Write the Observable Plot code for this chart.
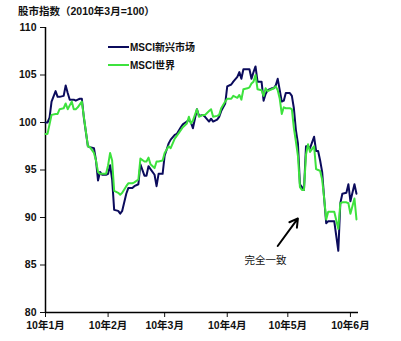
<!DOCTYPE html>
<html>
<head>
<meta charset="utf-8">
<script src="https://cdn.jsdelivr.net/npm/d3@7"></script>
<script src="https://cdn.jsdelivr.net/npm/@observablehq/plot@0.6"></script>
<style>
  html, body { margin: 0; padding: 0; background: #fff; }
  #wrap { position: relative; width: 401px; height: 341px; font-family: "Liberation Sans", Arial, "Noto Sans CJK SC", sans-serif; }
  #title { position: absolute; left: 18px; top: 3px; font-size: 10.5px; font-weight: bold; color: #111; white-space: nowrap; z-index: 2; }
  .leg { position: absolute; left: 108px; font-size: 10px; font-weight: bold; color: #111; white-space: nowrap; display: flex; align-items: center; z-index: 2; }
  .leg .sw { display: inline-block; width: 21px; height: 0; border-top-style: solid; border-top-width: 2px; margin-right: 1px; }
  #chart { position: absolute; left: 0; top: 0; z-index: 1; }
</style>
</head>
<body>
<div id="wrap">
  <div id="chart"></div>
  <div id="title"></div>
  <div id="legend"></div>
</div>
<script>
const dates = [
  "2010-01-01","2010-01-02","2010-01-03","2010-01-04","2010-01-06","2010-01-07","2010-01-08","2010-01-10","2010-01-11","2010-01-12",
  "2010-01-13","2010-01-14","2010-01-15","2010-01-16","2010-01-17","2010-01-18","2010-01-19","2010-01-20","2010-01-22","2010-01-23",
  "2010-01-25","2010-01-26","2010-01-27","2010-01-28","2010-01-29","2010-01-30","2010-01-31","2010-02-01","2010-02-02","2010-02-03",
  "2010-02-04","2010-02-06","2010-02-07","2010-02-08","2010-02-10","2010-02-11","2010-02-13","2010-02-14","2010-02-16","2010-02-17",
  "2010-02-19","2010-02-20","2010-02-21","2010-02-22","2010-02-24","2010-02-25","2010-02-26","2010-02-28","2010-03-01","2010-03-03",
  "2010-03-04","2010-03-06","2010-03-07","2010-03-09","2010-03-10","2010-03-12","2010-03-13","2010-03-14","2010-03-15","2010-03-17",
  "2010-03-18","2010-03-20","2010-03-21","2010-03-23","2010-03-24","2010-03-25","2010-03-27","2010-03-28","2010-03-29","2010-03-31",
  "2010-04-01","2010-04-03","2010-04-04","2010-04-06","2010-04-07","2010-04-08","2010-04-09","2010-04-11","2010-04-12","2010-04-13",
  "2010-04-14","2010-04-15","2010-04-16","2010-04-18","2010-04-19","2010-04-20","2010-04-21","2010-04-23","2010-04-24","2010-04-25",
  "2010-04-26","2010-04-27","2010-04-28","2010-04-29","2010-04-30","2010-05-02","2010-05-03","2010-05-04","2010-05-05","2010-05-06",
  "2010-05-07","2010-05-08","2010-05-09","2010-05-10","2010-05-11","2010-05-12","2010-05-14","2010-05-15","2010-05-16","2010-05-17",
  "2010-05-18","2010-05-19","2010-05-20","2010-05-21","2010-05-23","2010-05-24","2010-05-26","2010-05-27","2010-05-28","2010-05-30",
  "2010-05-31","2010-06-01","2010-06-03","2010-06-04"
];
const emValues = [
  100.0,100.0,100.5,102.2,103.3,102.7,102.7,102.8,103.9,103.1,
  102.4,102.4,102.4,102.3,102.4,102.5,102.5,100.5,97.5,97.4,
  97.3,96.0,93.9,94.8,94.5,94.5,94.5,94.6,95.5,94.0,
  90.8,90.7,90.4,90.7,92.5,93.1,93.1,93.3,93.5,95.6,
  94.4,94.4,95.4,95.1,94.5,93.3,94.6,94.6,96.5,97.8,
  98.2,98.7,98.8,99.5,99.8,100.1,100.3,100.0,99.4,101.4,
  100.7,100.8,100.6,100.1,100.4,100.1,100.3,100.6,101.2,102.0,
  103.8,104.0,104.3,104.8,105.3,104.6,105.6,105.6,105.6,104.6,
  105.3,105.9,104.3,104.3,102.3,103.0,103.4,103.6,103.6,103.9,
  104.6,103.4,102.2,102.3,103.1,103.1,102.8,101.5,99.2,97.8,
  93.5,93.2,92.9,97.5,97.5,97.3,98.5,97.0,97.0,96.0,
  94.8,92.0,89.4,89.6,89.6,89.6,86.5,91.5,92.5,92.6,
  93.5,91.7,93.5,92.5
];
const worldValues = [
  98.8,98.8,99.8,100.8,100.9,100.9,101.4,101.5,102.0,101.4,
  101.8,102.2,101.4,101.4,101.6,101.9,102.2,100.6,97.5,97.4,
  96.8,96.0,94.8,94.6,94.6,94.6,94.6,95.5,96.8,96.0,
  92.8,92.6,92.4,92.6,93.3,93.6,93.6,93.7,94.0,96.2,
  95.9,95.9,96.3,95.6,95.2,95.9,95.9,96.0,96.8,97.5,
  97.3,98.3,98.6,99.2,99.5,99.9,100.6,99.9,100.2,101.4,
  100.6,100.8,100.8,101.2,101.4,100.6,100.7,100.8,101.5,102.2,
  102.5,102.5,102.8,102.6,102.9,102.4,103.5,103.6,103.7,104.1,
  104.3,105.0,103.5,103.4,102.8,103.6,103.3,103.5,103.6,103.8,
  103.4,102.5,100.9,101.6,101.5,101.5,101.4,99.4,98.0,96.5,
  93.2,92.9,92.9,96.6,97.7,96.9,97.5,95.1,95.0,94.9,
  94.0,92.0,89.8,90.6,90.6,90.6,88.8,91.5,91.6,91.6,
  91.5,90.4,92.0,89.8
];
const seriesNames = ["MSCI新兴市场", "MSCI世界"];
const seriesColors = ["#0b0b5c", "#3de23d"];
const xTickDates = ["2010-01-01","2010-02-01","2010-03-01","2010-04-01","2010-05-01","2010-06-01"];
const xTickLabels = ["10年1月","10年2月","10年3月","10年4月","10年5月","10年6月"];
const yTicks = [80, 85, 90, 95, 100, 105, 110];
const xDomain = ["2010-01-01", "2010-06-05"];
const titleText = "股市指数（2010年3月=100）";
const annotationText = "完全一致";
const annotationTextPos = ["2010-04-20", 85.5];
const annotationArrow = [["2010-04-26", 87.0], ["2010-05-06", 89.9]];

const parse = d3.utcParse("%Y-%m-%d");
const emData = dates.map((d, i) => ({date: parse(d), value: emValues[i]}));
const worldData = dates.map((d, i) => ({date: parse(d), value: worldValues[i]}));
const tickDates = xTickDates.map(parse);
const labelByTime = new Map(tickDates.map((d, i) => [+d, xTickLabels[i]]));

const font = '"Liberation Sans", Arial, "Noto Sans CJK SC", sans-serif';

const chart = Plot.plot({
  width: 401,
  height: 341,
  marginLeft: 45,
  marginRight: 43,
  marginTop: 27,
  marginBottom: 29,
  style: {fontFamily: font, fontSize: "10.5px", fontWeight: "bold", color: "#111", background: "transparent"},
  x: {type: "utc", domain: xDomain.map(parse), ticks: tickDates, tickFormat: d => labelByTime.get(+d) ?? "", tickSize: 5, tickPadding: 4, label: null},
  y: {domain: [80, 110], ticks: yTicks, tickSize: 5, tickPadding: 4, label: null},
  marks: [
    Plot.ruleY([80], {stroke: "#000", strokeWidth: 1.5}),
    Plot.ruleX([parse(xDomain[0])], {stroke: "#000", strokeWidth: 1.5}),
    Plot.line(emData, {x: "date", y: "value", stroke: seriesColors[0], strokeWidth: 2}),
    Plot.line(worldData, {x: "date", y: "value", stroke: seriesColors[1], strokeWidth: 2}),
    Plot.arrow([{x1: parse(annotationArrow[0][0]), y1: annotationArrow[0][1], x2: parse(annotationArrow[1][0]), y2: annotationArrow[1][1]}],
      {x1: "x1", y1: "y1", x2: "x2", y2: "y2", stroke: "#000", strokeWidth: 2, headLength: 7}),
    Plot.text([{x: parse(annotationTextPos[0]), y: annotationTextPos[1], t: annotationText}],
      {x: "x", y: "y", text: "t", fontSize: 10.5, fontWeight: "normal", fill: "#111"})
  ]
});
document.getElementById("chart").appendChild(chart);
document.getElementById("title").textContent = titleText;

const legend = document.getElementById("legend");
seriesNames.forEach((name, i) => {
  const row = document.createElement("div");
  row.className = "leg";
  row.style.top = (39 + i * 18) + "px";
  const sw = document.createElement("span");
  sw.className = "sw";
  sw.style.borderTopColor = seriesColors[i];
  row.appendChild(sw);
  const t = document.createElement("span");
  t.textContent = name;
  row.appendChild(t);
  legend.appendChild(row);
});
</script>
</body>
</html>
